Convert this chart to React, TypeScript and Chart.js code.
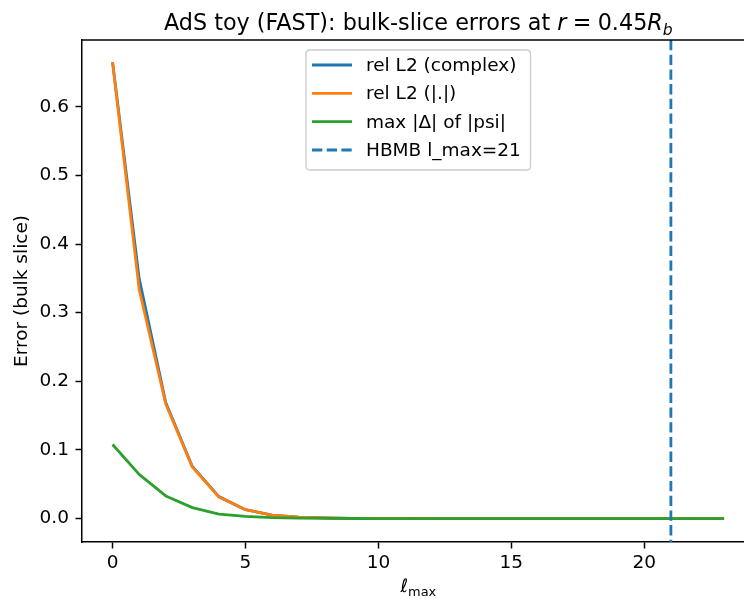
import React, { useEffect, useRef } from "react";
import { Chart, registerables } from "chart.js";

Chart.register(...registerables);

// Truncation order of the expansion (x axis)
const L_MAX = [0, 1, 2, 3, 4, 5, 6, 7, 8, 9, 10, 11, 12, 13, 14, 15, 16, 17, 18, 19, 20, 21, 22, 23];

// Relative L2 error of the complex field on the bulk slice
const REL_L2_COMPLEX = [
  0.665, 0.35, 0.169, 0.076, 0.032, 0.013, 0.0052, 0.0022, 0.0009, 0.0004, 0.0002, 0.0001,
  0.00005, 0.00002, 0.00001, 0, 0, 0, 0, 0, 0, 0, 0, 0,
];

// Relative L2 error of the modulus
const REL_L2_ABS = [
  0.665, 0.334, 0.167, 0.075, 0.0315, 0.013, 0.0049, 0.0021, 0.0009, 0.0004, 0.0002, 0.0001,
  0.00005, 0.00002, 0.00001, 0, 0, 0, 0, 0, 0, 0, 0, 0,
];

// Max absolute deviation of |psi|
const MAX_DELTA_PSI = [
  0.108, 0.0645, 0.033, 0.016, 0.0065, 0.0033, 0.0015, 0.0007, 0.0003, 0.0001, 0.00005, 0.00002,
  0.00001, 0, 0, 0, 0, 0, 0, 0, 0, 0, 0, 0,
];

// HBMB cutoff marker
const HBMB_LMAX = 21;

const X_TICKS = [0, 5, 10, 15, 20];
const Y_TICKS = [0, 0.1, 0.2, 0.3, 0.4, 0.5, 0.6];

const SERIES_LABELS = ["rel L2 (complex)", "rel L2 (|.|)", "max |Δ| of |psi|", "HBMB l_max=21"];
const SERIES_COLORS = ["#1f77b4", "#ff7f0e", "#2ca02c", "#1f77b4"];

const FONT = "'DejaVu Sans', sans-serif";
const FS = 18.5;
const TITLE_FS = 22.3;
const W = 744;
const H = 599;

const decorations = {
  id: "decorations",
  afterDatasetsDraw(chart: any) {
    const { ctx, chartArea, scales } = chart;
    const x = scales.x.getPixelForValue(HBMB_LMAX);
    ctx.save();
    ctx.beginPath();
    ctx.rect(chartArea.left, chartArea.top, chartArea.right - chartArea.left, chartArea.bottom - chartArea.top);
    ctx.clip();
    ctx.strokeStyle = SERIES_COLORS[3];
    ctx.lineWidth = 2.8;
    ctx.setLineDash([10.3, 4.4]);
    ctx.beginPath();
    ctx.moveTo(x, chartArea.top);
    ctx.lineTo(x, chartArea.bottom);
    ctx.stroke();
    ctx.restore();
  },
  afterDraw(chart: any) {
    const { ctx, chartArea, scales } = chart;
    ctx.save();

    // top spine
    ctx.strokeStyle = "#000";
    ctx.lineWidth = 1.5;
    ctx.beginPath();
    ctx.moveTo(chartArea.left - 0.75, chartArea.top);
    ctx.lineTo(chartArea.right, chartArea.top);
    ctx.stroke();

    // full axes extent (right spine lies past the canvas edge)
    const axesRight = scales.x.getPixelForValue(24.15);
    const cx = (chartArea.left + axesRight) / 2;

    // title with math part: r = 0.45 R_b
    const ts = TITLE_FS;
    const normal = `${ts}px ${FONT}`;
    const ital = `italic ${ts}px ${FONT}`;
    const subFont = `italic ${ts * 0.7}px ${FONT}`;
    const parts: { t: string; f: string; dy: number; gap: number }[] = [
      { t: "AdS toy (FAST): bulk-slice errors at ", f: normal, dy: 0, gap: 0 },
      { t: "r", f: ital, dy: 0, gap: ts * 0.28 },
      { t: "=", f: normal, dy: 0, gap: ts * 0.28 },
      { t: "0.45", f: normal, dy: 0, gap: 0 },
      { t: "R", f: ital, dy: 0, gap: 0 },
      { t: "b", f: subFont, dy: ts * 0.22, gap: 0 },
    ];
    let total = 0;
    for (const p of parts) {
      ctx.font = p.f;
      total += ctx.measureText(p.t).width + p.gap;
    }
    let tx = cx - total / 2;
    const tBase = 30;
    ctx.fillStyle = "#000";
    ctx.textBaseline = "alphabetic";
    ctx.textAlign = "left";
    for (const p of parts) {
      ctx.font = p.f;
      ctx.fillText(p.t, tx, tBase + p.dy);
      tx += ctx.measureText(p.t).width + p.gap;
    }

    // x axis label: ℓ_max
    const fs = FS;
    ctx.font = `italic ${fs}px ${FONT}`;
    const lw = ctx.measureText("ℓ").width;
    ctx.font = `${fs * 0.7}px ${FONT}`;
    const mw = ctx.measureText("max").width;
    let lx = cx - (lw + mw) / 2;
    ctx.font = `italic ${fs}px ${FONT}`;
    ctx.fillText("ℓ", lx, 592);
    lx += lw;
    ctx.font = `${fs * 0.7}px ${FONT}`;
    ctx.fillText("max", lx, 596);

    // y axis label
    ctx.save();
    ctx.translate(22, (chartArea.top + chartArea.bottom) / 2);
    ctx.rotate(-Math.PI / 2);
    ctx.font = `${fs}px ${FONT}`;
    ctx.textAlign = "center";
    ctx.textBaseline = "middle";
    ctx.fillText("Error (bulk slice)", 0, 0);
    ctx.restore();

    // legend
    const bx = 306, by = 50, bw = 224.5, bh = 120, r = 4;
    ctx.beginPath();
    ctx.moveTo(bx + r, by);
    ctx.lineTo(bx + bw - r, by);
    ctx.quadraticCurveTo(bx + bw, by, bx + bw, by + r);
    ctx.lineTo(bx + bw, by + bh - r);
    ctx.quadraticCurveTo(bx + bw, by + bh, bx + bw - r, by + bh);
    ctx.lineTo(bx + r, by + bh);
    ctx.quadraticCurveTo(bx, by + bh, bx, by + bh - r);
    ctx.lineTo(bx, by + r);
    ctx.quadraticCurveTo(bx, by, bx + r, by);
    ctx.closePath();
    ctx.fillStyle = "rgba(255,255,255,0.8)";
    ctx.fill();
    ctx.strokeStyle = "#cccccc";
    ctx.lineWidth = 1.3;
    ctx.stroke();

    const rows = [65, 93.3, 121.7, 150];
    ctx.font = `${fs}px ${FONT}`;
    ctx.textAlign = "left";
    ctx.textBaseline = "middle";
    SERIES_LABELS.forEach((label, i) => {
      const ry = rows[i];
      ctx.strokeStyle = SERIES_COLORS[i];
      ctx.lineWidth = 2.8;
      ctx.setLineDash(i === 3 ? [10.3, 4.4] : []);
      ctx.beginPath();
      ctx.moveTo(312, ry);
      ctx.lineTo(352, ry);
      ctx.stroke();
      ctx.setLineDash([]);
      ctx.fillStyle = "#000";
      ctx.fillText(label, 366, ry + 1);
    });

    ctx.restore();
  },
};

export default function App() {
  const canvasRef = useRef<HTMLCanvasElement | null>(null);

  useEffect(() => {
    const canvas = canvasRef.current;
    if (!canvas) return;

    const series = [REL_L2_COMPLEX, REL_L2_ABS, MAX_DELTA_PSI];
    const datasets = series.map((vals, i) => ({
      label: SERIES_LABELS[i],
      data: L_MAX.map((x, j) => ({ x, y: vals[j] })),
      borderColor: SERIES_COLORS[i],
      backgroundColor: SERIES_COLORS[i],
      borderWidth: 2.8,
      pointRadius: 0,
      borderJoinStyle: "round" as const,
      tension: 0,
      fill: false,
      order: 3 - i,
    }));

    const tickFont = { family: FONT, size: FS };

    const chart = new Chart(canvas, {
      type: "line",
      data: { datasets },
      options: {
        animation: false,
        responsive: false,
        devicePixelRatio: 1,
        layout: { padding: { top: 40, left: 0, right: 0, bottom: 0 } },
        plugins: {
          legend: { display: false },
          tooltip: { enabled: false },
          title: { display: false },
        },
        scales: {
          x: {
            type: "linear",
            min: -1.15,
            max: 23.75,
            afterBuildTicks: (s: any) => {
              s.ticks = X_TICKS.map((v) => ({ value: v }));
            },
            afterFit: (s: any) => {
              s.height = H - 542;
            },
            ticks: {
              font: tickFont,
              color: "#000",
              padding: 4,
              maxRotation: 0,
              callback: (v: any) => String(v),
            },
            grid: {
              display: true,
              drawOnChartArea: false,
              drawTicks: true,
              tickLength: 6.5,
              tickWidth: 1.5,
              tickColor: "#000",
            },
            border: { display: true, color: "#000", width: 1.5 },
          },
          y: {
            type: "linear",
            min: -0.0341,
            max: 0.6972,
            afterBuildTicks: (s: any) => {
              s.ticks = Y_TICKS.map((v) => ({ value: v }));
            },
            afterFit: (s: any) => {
              s.width = 82;
            },
            ticks: {
              font: tickFont,
              color: "#000",
              padding: 6.5,
              callback: (v: any) => Number(v).toFixed(1),
            },
            grid: {
              display: true,
              drawOnChartArea: false,
              drawTicks: true,
              tickLength: 6.5,
              tickWidth: 1.5,
              tickColor: "#000",
            },
            border: { display: true, color: "#000", width: 1.5 },
          },
        },
      },
      plugins: [decorations],
    });

    return () => chart.destroy();
  }, []);

  return (
    <div style={{ position: "absolute", left: 0, top: 0, width: W, height: H, background: "#fff", overflow: "hidden" }}>
      <canvas ref={canvasRef} width={W} height={H} style={{ display: "block" }} />
    </div>
  );
}
